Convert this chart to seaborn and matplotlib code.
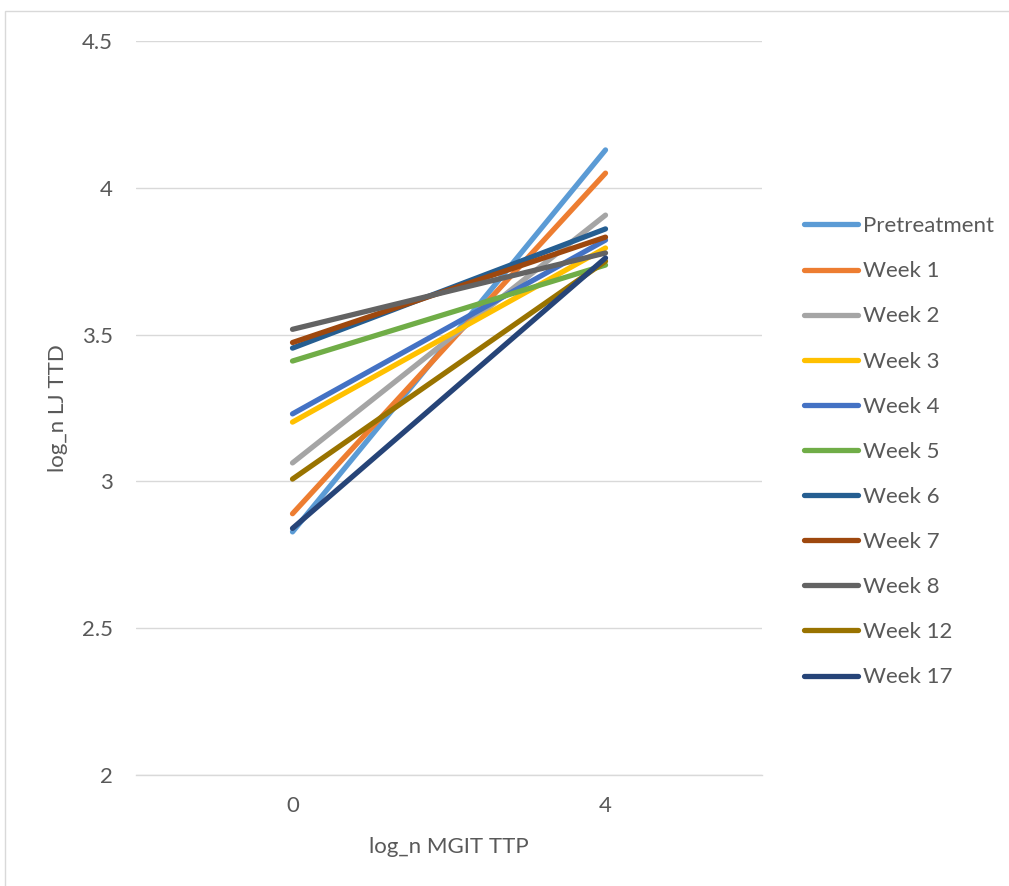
import pandas as pd
import numpy as np
import matplotlib
matplotlib.use("agg")
import matplotlib.pyplot as plt
import seaborn as sns
from matplotlib.patches import Rectangle

x_labels = ["0", "4"]
series = ["Pretreatment", "Week 1", "Week 2", "Week 3", "Week 4", "Week 5",
          "Week 6", "Week 7", "Week 8", "Week 12", "Week 17"]
at_0 = [2.828, 2.890, 3.063, 3.202, 3.230, 3.410, 3.454, 3.473, 3.518, 3.008, 2.840]
at_4 = [4.129, 4.050, 3.907, 3.795, 3.822, 3.737, 3.860, 3.832, 3.778, 3.750, 3.761]
colors = ["#5B9BD5", "#ED7D31", "#A5A5A5", "#FFC000", "#4472C4", "#70AD47",
          "#255E91", "#9E480E", "#636363", "#997300", "#264478"]
y_ticks = [2, 2.5, 3, 3.5, 4, 4.5]
y_tick_labels = ["2", "2.5", "3", "3.5", "4", "4.5"]

TEXT = "#595959"
GRID = "#D9D9D9"
FS = 16


def main():
    rows = []
    for name, a, b in zip(series, at_0, at_4):
        rows.append({"series": name, "pos": 0, "val": a})
        rows.append({"series": name, "pos": 1, "val": b})
    df = pd.DataFrame(rows)

    sns.set_style("white")
    plt.rcParams["font.family"] = ["Lato", "DejaVu Sans"]

    fig = plt.figure(figsize=(10.09, 8.86), dpi=100)
    ax = fig.add_axes([0.1348, 0.1253, 0.6204, 0.8284])

    sns.lineplot(data=df, x="pos", y="val", hue="series", hue_order=series,
                 palette=colors, linewidth=3.8, sort=False, ax=ax,
                 solid_capstyle="round")

    ax.set_xlim(-0.5, 1.5)
    ax.set_ylim(2, 4.5)
    ax.set_yticks(y_ticks)
    ax.set_yticklabels(y_tick_labels)
    ax.set_xticks([0, 1])
    ax.set_xticklabels(x_labels)
    ax.set_xticks([-0.5, 0.5, 1.5], minor=True)
    ax.tick_params(axis="x", which="major", length=0, pad=15, labelsize=FS, labelcolor=TEXT)
    ax.tick_params(axis="x", which="minor", length=8, width=1, color=GRID, direction="out")
    ax.tick_params(axis="y", length=0, pad=16.5, labelsize=FS, labelcolor=TEXT)

    ax.grid(axis="y", color=GRID, linewidth=1)
    ax.set_axisbelow(True)
    for s in ["left", "right", "top"]:
        ax.spines[s].set_visible(False)
    ax.spines["bottom"].set_color(GRID)
    ax.spines["bottom"].set_linewidth(1)

    ax.set_xlabel("log_n MGIT TTP", fontsize=FS, color=TEXT, labelpad=15)
    ax.set_ylabel("log_n LJ TTD", fontsize=FS, color=TEXT, labelpad=10)

    leg = ax.legend(loc="upper left", bbox_to_anchor=(0.788, 0.766),
                    bbox_transform=fig.transFigure, frameon=False,
                    fontsize=FS, handlelength=2.43, handletextpad=0.22,
                    labelspacing=1.13, borderaxespad=0)
    for t in leg.get_texts():
        t.set_color(TEXT)

    fig.patches.append(Rectangle((5 / 1009, -0.1), 1.2, 0.1 + (886 - 11) / 886,
                                 transform=fig.transFigure, fill=False,
                                 edgecolor=GRID, linewidth=1))

    fig.savefig("out.png", dpi=100)
    plt.close(fig)


if __name__ == "__main__":
    main()
